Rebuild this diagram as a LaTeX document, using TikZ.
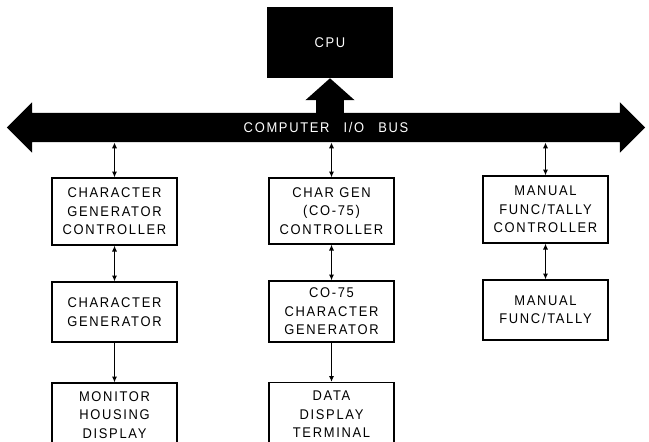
\documentclass[tikz,border=0pt]{standalone}
\usepackage{fontspec}
\setmainfont{Liberation Sans}[LetterSpace=12, FakeStretch=0.92]
\usetikzlibrary{arrows.meta,shapes.arrows}

\begin{document}
\begin{tikzpicture}[
    x=0.03cm, y=-0.03cm,
    every node/.style={font=\fontsize{12}{15.7}\selectfont, align=center},
    unit/.style={draw, line width=1.1pt, minimum width=3.75cm, inner sep=0pt},
    link/.style={line width=1.1pt, {Latex[length=5pt,width=4.5pt]}-{Latex[length=5pt,width=4.5pt]}},
    feed/.style={line width=1.1pt, -{Latex[length=5pt,width=4.5pt]}},
]
\fill[white] (0,0) rectangle (649,441);
\clip (0,0) rectangle (649,441);

% CPU
\node[fill=black, text=white, minimum width=3.78cm, minimum height=2.13cm] (cpu) at (330,42.5) {CPU};

% I/O bus
\node[double arrow, fill=black, text=white, minimum height=19.14cm,
      text height=0.29cm, text depth=0cm, inner ysep=0.29cm,
      double arrow head extend=0.315cm] (bus) at (326,127.5) {COMPUTER\quad I/O\quad BUS};
\draw[line width=0.84cm, -{Triangle[width=1.44cm 0 0, length=0.66cm 0 0]}] (bus.north -| cpu.south) -- (cpu.south);

% left column
\node[unit, minimum height=2.01cm] (ccont) at (114.5,211.5) {CHARACTER\\GENERATOR\\CONTROLLER};
\node[unit, minimum height=1.8cm] (cgen) at (114.5,312) {CHARACTER\\GENERATOR};
\node[unit, minimum height=1.92cm] (mon) at (114.5,415) {MONITOR\\HOUSING\\DISPLAY};

% middle column
\node[unit, minimum height=1.98cm] (cgcont) at (331.5,211) {CHAR GEN\\(CO-75)\\CONTROLLER};
\node[unit, minimum height=1.83cm] (cogen) at (331.5,311.5) {CO-75\\CHARACTER\\GENERATOR};
\node[unit, minimum height=1.92cm] (ddt) at (331.5,414.5) {DATA\\DISPLAY\\TERMINAL};

% right column
\node[unit, minimum height=2.01cm] (mcont) at (545.5,209.5) {MANUAL\\FUNC/TALLY\\CONTROLLER};
\node[unit, minimum height=1.8cm] (mft) at (545.5,310) {MANUAL\\FUNC/TALLY};

% connections
\foreach \b in {ccont,cgcont,mcont}
    \draw[link] (bus.south -| \b.north) -- (\b.north);
\draw[link] (ccont) -- (cgen);
\draw[link] (cgcont) -- (cogen);
\draw[link] (mcont) -- (mft);
\draw[feed] (cgen) -- (mon);
\draw[feed] (cogen) -- (ddt);
\end{tikzpicture}
\end{document}
